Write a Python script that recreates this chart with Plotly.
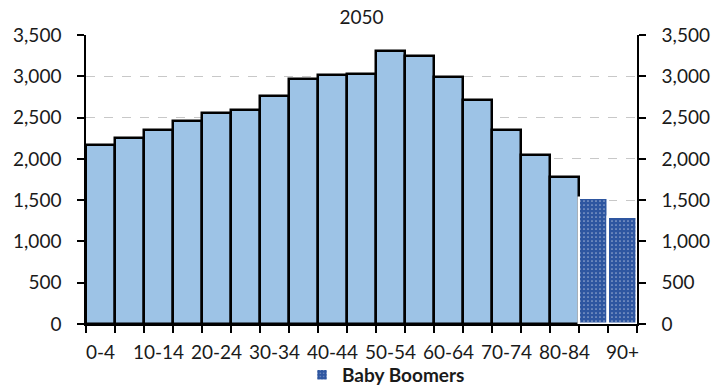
import plotly.graph_objects as go

# Projected population by age group, 2050 (thousands)
age_groups = ["0-4", "5-9", "10-14", "15-19", "20-24", "25-29", "30-34", "35-39",
              "40-44", "45-49", "50-54", "55-59", "60-64", "65-69", "70-74",
              "75-79", "80-84", "85-89", "90+"]
population = [2167, 2256, 2345, 2462, 2551, 2587, 2764, 2972, 3018, 3030,
              3301, 3248, 2990, 2712, 2345, 2042, 1776, 1522, 1292]
boomer_groups = ["85-89", "90+"]

y_ticks = [0, 500, 1000, 1500, 2000, 2500, 3000, 3500]
y_tick_text = [f"{v:,}" for v in y_ticks]

FONT = "Lato"
TEXT = "#1a1a1a"
pos = list(range(len(age_groups)))
is_boomer = [g in boomer_groups for g in age_groups]

reg_x = [p for p, b in zip(pos, is_boomer) if not b]
reg_y = [v for v, b in zip(population, is_boomer) if not b]
bb_x = [p for p, b in zip(pos, is_boomer) if b]
bb_y = [v for v, b in zip(population, is_boomer) if b]

fig = go.Figure()
fig.add_trace(go.Bar(
    x=reg_x, y=reg_y, width=1, showlegend=False, name="Population",
    marker=dict(color="#9DC3E6", line=dict(color="black", width=2.5)),
))
fig.add_trace(go.Bar(
    x=bb_x, y=bb_y, width=1, name="Baby Boomers",
    marker=dict(color="#2E56A0", line=dict(color="white", width=2.5),
                pattern=dict(shape=".", fgcolor="white", bgcolor="#2E56A0",
                             size=4, solidity=0.15)),
))
# mirror trace for the right-hand axis
fig.add_trace(go.Bar(x=pos, y=population, yaxis="y2", width=1, showlegend=False,
                     marker=dict(color="rgba(0,0,0,0)", line=dict(width=0)),
                     hoverinfo="skip"))

n = len(age_groups)
fig.update_layout(
    width=712, height=385,
    margin=dict(l=86, r=75, t=35, b=61),
    paper_bgcolor="white", plot_bgcolor="white",
    barmode="overlay", bargap=0,
    font=dict(family=FONT, size=19, color=TEXT),
    title=dict(text="2050", x=0.5, xref="paper", xanchor="center",
               y=1 - 17 / 385, yref="container", yanchor="middle",
               font=dict(family=FONT, size=19, color=TEXT)),
    xaxis=dict(
        range=[-0.5, n - 0.5], automargin=False,
        tickvals=pos[::2], ticktext=age_groups[::2],
        ticks="", showgrid=False, zeroline=False,
        showline=True, linecolor="black", linewidth=2,
        ticklabelstandoff=10,
        minor=dict(tickvals=[p - 0.5 for p in pos] + [n - 0.5], ticks="outside",
                   ticklen=7, tickcolor="black", tickwidth=1.5, showgrid=False),
    ),
    yaxis=dict(
        range=[0, 3500], tickvals=y_ticks, ticktext=y_tick_text, automargin=False,
        ticks="outside", ticklen=7, tickcolor="black", tickwidth=1.5,
        showline=True, linecolor="black", linewidth=1.5,
        showgrid=True, gridcolor="#C8C8C8", griddash="dash", gridwidth=1,
        zeroline=False, ticklabelstandoff=12,
    ),
    yaxis2=dict(
        range=[0, 3500], tickvals=y_ticks, ticktext=y_tick_text, automargin=False,
        overlaying="y", side="right", anchor="x",
        ticks="outside", ticklen=7, tickcolor="black", tickwidth=1.5,
        showline=True, linecolor="black", linewidth=1.5,
        showgrid=False, zeroline=False, ticklabelstandoff=12,
    ),
    legend=dict(orientation="h", xref="container", x=302 / 712, xanchor="left",
                yref="container", y=1 - 375 / 385, yanchor="middle",
                font=dict(family=FONT, size=19, color=TEXT, weight="bold"),
                bgcolor="rgba(0,0,0,0)"),
)

fig.write_html("out.html")
